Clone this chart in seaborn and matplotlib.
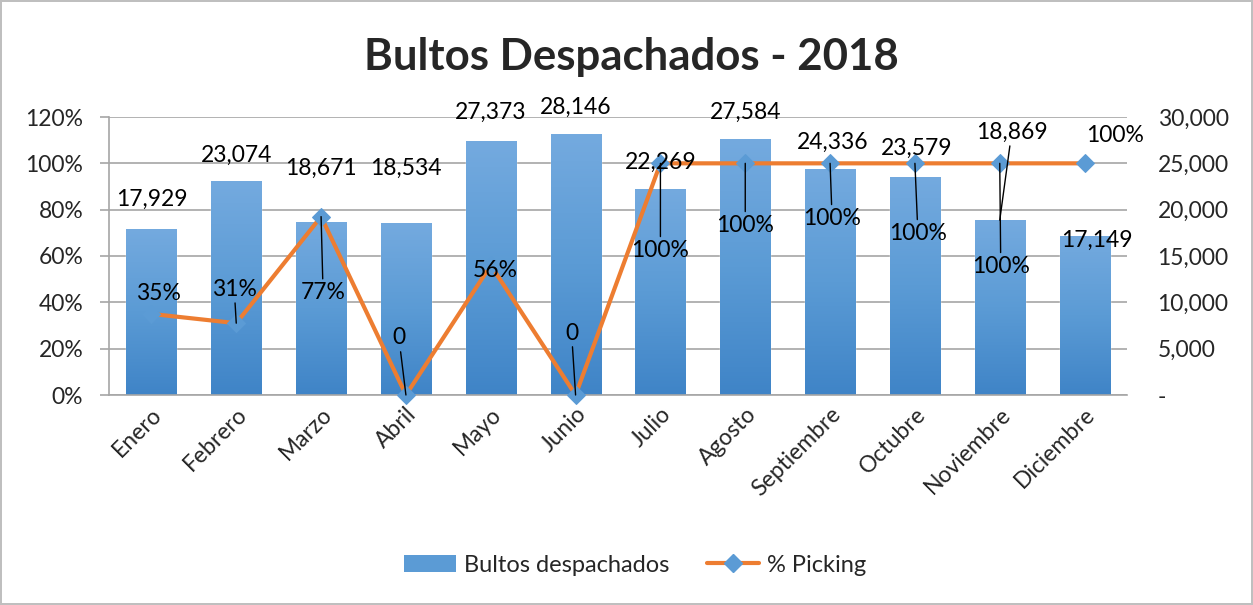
import numpy as np
import pandas as pd
import matplotlib
matplotlib.use("Agg")
import matplotlib.pyplot as plt
import seaborn as sns
from matplotlib.colors import LinearSegmentedColormap
from matplotlib.ticker import FuncFormatter, MultipleLocator
from matplotlib.patches import Patch
from matplotlib.lines import Line2D

# ---------------- data ----------------
months = ["Enero", "Febrero", "Marzo", "Abril", "Mayo", "Junio", "Julio",
          "Agosto", "Septiembre", "Octubre", "Noviembre", "Diciembre"]
bultos = [17929, 23074, 18671, 18534, 27373, 28146, 22269,
          27584, 24336, 23579, 18869, 17149]
picking = [0.35, 0.31, 0.77, 0.0, 0.56, 0.0, 1.0, 1.0, 1.0, 1.0, 1.0, 1.0]
picking_labels = ["35%", "31%", "77%", "0", "56%", "0", "100%", "100%",
                  "100%", "100%", "100%", "100%"]
title = "Bultos Despachados - 2018"
bar_name = "Bultos despachados"
line_name = "% Picking"

# ---------------- label placement (pixel offsets) ----------------
bar_lab_off = [(0, 30), (0, 26), (0, 54), (0, 55), (0, 29), (0, 27), (0, 26),
               (0, 27), (3, 27), (2, 28), (12, 88), (12, -4)]
bar_leader = [False] * 10 + [True, False]
line_lab_off = [(7, 20), (-2, 34), (2, -76), (-7, 57), (5, -5), (-4, 62), (0, -87),
                (0, -62), (2, -55), (3, -70), (1, -103), (30, 28)]
line_leader = [False, True, True, True, False, True, True, True, True, True, True, False]

df = pd.DataFrame({"mes": months, "bultos": bultos, "picking": picking})

sns.set_theme(style="white")
plt.rcParams["font.family"] = ["Lato", "DejaVu Sans"]

BAR = "#5B9BD5"
ORANGE = "#ED7D31"
GRID = "#A6A6A6"
FS = 16.5

fig = plt.figure(figsize=(12.53, 6.05), dpi=100)
fig.patch.set_facecolor("white")
fig.patch.set_edgecolor("#BFBFBF")
fig.patch.set_linewidth(1.5)

L, R, B, T = 109, 1127, 395, 117
ax = fig.add_axes([L / 1253, 1 - B / 605, (R - L) / 1253, (B - T) / 605])
sns.barplot(data=df, x="mes", y="bultos", color=BAR, width=0.59, ax=ax,
            saturation=1, zorder=2)

# gradient fill for bars
cmap = LinearSegmentedColormap.from_list("g", ["#3F84C7", "#5B9BD5", "#74AADF"])
grad = np.linspace(0, 1, 256).reshape(-1, 1)
for p in list(ax.patches):
    x0, y0 = p.get_x(), p.get_y()
    w, h = p.get_width(), p.get_height()
    im = ax.imshow(grad, cmap=cmap, aspect="auto", origin="lower",
                   extent=[x0, x0 + w, y0, y0 + h], zorder=2.1)
    im.set_clip_path(p)
ax.set_aspect("auto")
ax.set_xlim(-0.5, 11.5)
ax.set_ylim(0, 30000)
ax.set_xlabel("")
ax.set_ylabel("")

# line on left axis
ax2 = ax.twinx()
sns.lineplot(x=np.arange(len(months)), y=picking, ax=ax2, color=ORANGE, linewidth=3,
             marker="D", markersize=9, markerfacecolor=BAR, markeredgecolor=BAR,
             zorder=3, clip_on=False)
ax2.set_ylim(0, 1.2)
ax2.set_xlim(-0.5, 11.5)

# right axis (bars)
ax.yaxis.tick_right()
ax.yaxis.set_label_position("right")
ax.yaxis.set_major_locator(MultipleLocator(5000))
ax.yaxis.set_major_formatter(FuncFormatter(lambda v, p: "-" if v == 0 else f"{int(v):,}"))
ax.tick_params(axis="y", labelsize=FS, length=0, pad=22, right=False)
ax.yaxis.grid(True, color=GRID, linewidth=1.2, zorder=0)
ax.set_axisbelow(True)
for s in ["top", "left", "right"]:
    ax.spines[s].set_visible(False)
ax.spines["bottom"].set_color(GRID)
ax.spines["bottom"].set_linewidth(1.2)
ax.tick_params(axis="x", length=0, pad=6)
ax.set_xticks(range(len(months)))
ax.set_xticklabels(months, rotation=45, ha="right", rotation_mode="anchor", fontsize=FS)

# left axis (percent)
ax2.yaxis.tick_left()
ax2.yaxis.set_label_position("left")
ax2.yaxis.set_major_locator(MultipleLocator(0.2))
ax2.yaxis.set_major_formatter(FuncFormatter(lambda v, p: f"{v*100:.0f}%"))
ax2.tick_params(axis="y", labelsize=FS, length=6.5, width=1.2, color=GRID,
                direction="out", pad=12, left=True, right=False)
ax2.set_ylabel("")
for s in ["top", "right", "bottom"]:
    ax2.spines[s].set_visible(False)
ax2.spines["left"].set_visible(True)
ax2.spines["left"].set_color(GRID)
ax2.spines["left"].set_linewidth(1.2)
ax2.grid(False)

# bar value labels
for i, v in enumerate(bultos):
    y = v / 30000 * 1.2
    kw = {}
    if bar_leader[i]:
        kw["arrowprops"] = dict(arrowstyle="-", color="black", lw=1, shrinkA=0, shrinkB=0)
    ax2.annotate(f"{v:,}", xy=(i, y), xytext=bar_lab_off[i], textcoords="offset pixels",
                 ha="center", va="center", fontsize=FS, color="black", zorder=5, **kw)

# line value labels
for i, v in enumerate(picking):
    kw = {}
    if line_leader[i]:
        kw["arrowprops"] = dict(arrowstyle="-", color="black", lw=1, shrinkA=0, shrinkB=0)
    ax2.annotate(picking_labels[i], xy=(i, v), xytext=line_lab_off[i],
                 textcoords="offset pixels", ha="center", va="center", fontsize=FS,
                 color="black", zorder=5, **kw)

# title
fig.text(631 / 1253, 1 - 57 / 605, title, ha="center", va="center",
         fontsize=31.5, fontweight="bold")

# legend
handles = [Patch(facecolor=BAR, edgecolor="none", label=bar_name),
           Line2D([0], [0], color=ORANGE, lw=3, marker="D", markersize=9,
                  markerfacecolor=BAR, markeredgecolor=BAR, label=line_name)]
fig.legend(handles=handles, loc="center", bbox_to_anchor=(635 / 1253, 1 - 565 / 605),
           ncol=2, frameon=False, fontsize=17, handlelength=2.2, handleheight=0.75,
           columnspacing=1.6, handletextpad=0.35)

fig.savefig("out.png", dpi=100)
